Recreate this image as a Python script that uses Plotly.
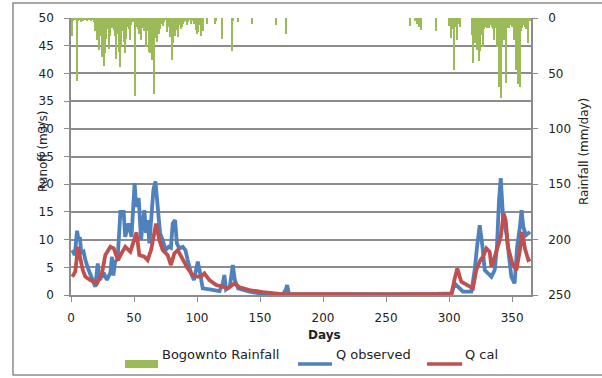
import plotly.graph_objects as go

# ---------------- data ----------------
rain_days = [1, 2, 3, 5, 6, 7, 8, 9, 10, 11, 12, 13, 14, 15, 16, 17, 18, 19, 20,
             21, 22, 23, 24, 25, 26, 27, 28, 29, 30, 31, 32, 33, 34, 35, 36, 37, 38, 39, 40,
             41, 42, 43, 44, 45, 46, 47, 48, 49, 50, 51, 52, 53, 54, 55, 56, 57, 58, 59, 60,
             61, 62, 63, 64, 65, 66, 67, 68, 69, 70, 71, 72, 73, 74, 75, 76, 77, 78, 79, 80,
             81, 82, 83, 84, 85, 86, 87, 88, 89, 90, 91, 92, 93, 94, 95, 96, 97, 98, 99, 100,
             101, 102, 103, 104, 105, 108, 114, 115, 120, 128, 129, 133, 144, 163, 171,
             269, 273, 275, 276, 278, 290, 300, 302, 303, 304, 305, 306, 308, 309,
             318, 319, 320, 321, 322, 323, 324, 325, 326, 327, 328, 329, 330, 331, 332, 333,
             334, 335, 336, 337, 338, 339, 340, 341, 342, 343, 344, 345, 346, 347, 348, 349,
             350, 351, 352, 353, 354, 355, 356, 357, 358, 359, 360, 361, 362, 363, 364]
rain_mm = [16, 3, 2, 57, 3, 2, 4, 2, 3, 2, 1, 3, 2, 1, 3, 2, 4, 12, 8,
           20, 29, 16, 12, 35, 43, 32, 19, 10, 28, 16, 6, 9, 11, 16, 37, 14, 31, 44, 25,
           12, 22, 32, 19, 8, 10, 20, 6, 4, 3, 70, 8, 10, 14, 5, 20, 9, 12, 3, 26,
           12, 31, 32, 38, 26, 69, 18, 22, 10, 14, 10, 5, 7, 4, 2, 13, 8, 6, 17, 38,
           23, 12, 16, 11, 17, 6, 10, 8, 5, 4, 3, 6, 4, 2, 5, 3, 3, 5, 11, 14,
           13, 6, 16, 10, 12, 5, 5, 3, 19, 30, 3, 4, 5, 6, 14,
           7, 3, 5, 8, 11, 12, 7, 18, 10, 47, 8, 20, 5, 8,
           15, 41, 20, 23, 29, 15, 39, 30, 15, 26, 10, 8, 9, 8, 9, 6,
           8, 10, 20, 9, 26, 12, 62, 72, 25, 10, 20, 59, 9, 8, 9, 6,
           8, 8, 20, 47, 10, 60, 62, 12, 9, 6, 8, 10, 8, 23, 3]

qobs_days = [1, 3, 4.8, 6, 7, 8.2, 10, 11.4, 14, 16.7, 19.3, 21.2, 22.7, 25.9, 28.5,
             31.2, 32.5, 33.6, 35, 37, 39.2, 41.8, 43, 45.6, 48, 50.5, 51.6, 53.7,
             55.6, 56.9, 58.2, 59.5, 60.8, 62.2, 63.5, 65.4, 67, 68.8, 70.7, 72.8,
             75, 77.5, 79.3, 80.7, 82.6, 84, 86, 88.7, 90.8, 92.6, 94, 95.3, 97.5,
             99, 100.6, 102, 104.5, 110, 117.8, 120.4, 121.7, 123, 126, 128.4, 130,
             132.6, 141.6, 152, 168, 170.5, 171.5, 173, 200, 250, 290, 302, 304.5,
             307, 311, 317.7, 320.3, 322.2, 324.3, 326.5, 328.3, 330.9, 333.6, 336.2,
             338, 339.6, 341, 342.8, 345.5, 347.6, 349.4, 352, 354, 356.2, 357.5,
             358.9, 361, 364.2]
qobs = [8.1, 7.2, 11.6, 9.9, 10.5, 7.5, 7.8, 6.3, 4.5, 2.7, 1.5, 5.7, 2.7, 4.0, 2.7,
        4.0, 6.9, 3.5, 6.0, 6.5, 15.0, 15.0, 10.5, 12.9, 10.5, 20.2, 15.9, 17.5,
        9.9, 12.9, 15.3, 11.2, 13.5, 9.3, 13.0, 19.0, 20.5, 15.9, 11.1, 9.9,
        8.1, 8.7, 8.5, 12.9, 13.5, 9.3, 8.4, 8.7, 8.1, 6.3, 5.0, 3.9, 2.7,
        4.5, 6.0, 4.5, 1.2, 1.0, 0.7, 2.1, 3.6, 1.0, 1.5, 5.4, 2.7,
        1.2, 0.6, 0.2, 0.1, 1.0, 1.8, 0.1, 0.1, 0.1, 0.2, 0.3, 2.1,
        1.5, 0.6, 0.6, 4.5, 8.7, 12.6, 8.7, 4.5, 3.9, 3.3, 4.5,
        8.7, 17.1, 21.1, 14.1, 11.1, 6.9, 3.3, 2.1, 8.7, 12.3, 15.3,
        12.3, 10.8, 11.4]

qcal_days = [1, 3.4, 5.5, 7.4, 9.3, 11.4, 15.3, 20.6, 24.6, 27.2, 31.2, 33.9, 37.3,
             40, 43.1, 47.1, 52, 54.2, 58.2, 60.8, 63.5, 67.5, 70.1, 72.8, 76.7,
             79.3, 82, 84.7, 88.7, 92.6, 96.6, 99.3, 103.2, 105.9, 109.8, 115.2,
             120.4, 124.4, 129.7, 133.7, 141.6, 152.2, 165.4, 200, 250, 300, 302,
             304.5, 306.5, 309.7, 313.7, 318.9, 321.6, 324.8, 326.9, 329.6, 332.2,
             333.6, 336.2, 338.8, 341, 343.3, 344.9, 346.7, 350.2, 353.4, 356.2,
             357.8, 360.2, 362.9, 364.6]
qcal = [3.3, 4.2, 8.7, 6.9, 4.5, 3.3, 2.7, 2.1, 3.9, 7.2, 8.7, 8.4, 6.3,
        7.5, 8.7, 7.8, 11.3, 7.2, 6.9, 6.3, 8.1, 12.9, 9.9, 8.1, 7.2,
        5.4, 7.5, 8.1, 6.3, 4.8, 3.6, 3.3, 3.3, 3.9, 2.7, 1.8,
        1.5, 1.2, 2.1, 1.4, 0.9, 0.5, 0.2, 0.1, 0.1, 0.2, 0.3,
        3.0, 4.8, 2.4, 1.8, 1.2, 4.5, 6.3, 6.9, 8.4, 7.8,
        5.1, 6.9, 8.7, 10.5, 14.7, 13.5, 8.7, 5.7, 4.5, 8.1,
        11.4, 8.4, 6.3, 6.5]

x_ticks = [0, 50, 100, 150, 200, 250, 300, 350]
y_ticks = [0, 5, 10, 15, 20, 25, 30, 35, 40, 45, 50]
y2_ticks = [0, 50, 100, 150, 200, 250]

series_names = ["Bogownto Rainfall", "Q observed", "Q cal"]

# ---------------- figure ----------------
GREEN = "#9BBB59"
BLUE = "#4F81BD"
RED = "#C0504D"
GRID = "#8C8C8C"
TXT = "#222222"
FONT = "DejaVu Sans, Verdana, sans-serif"
FS = 12

fig = go.Figure()
fig.add_trace(go.Bar(x=rain_days, y=rain_mm, name=series_names[0], yaxis="y2",
                     marker=dict(color=GREEN, line=dict(width=0)), width=1.0))
fig.add_trace(go.Scatter(x=qobs_days, y=qobs, name=series_names[1], mode="lines",
                         line=dict(color=BLUE, width=3.8)))
fig.add_trace(go.Scatter(x=qcal_days, y=qcal, name=series_names[2], mode="lines",
                         line=dict(color=RED, width=3.8)))

L, R, T, B = 71, 71, 18, 83
W, H = 602, 378
pw, ph = W - L - R, H - T - B


def px(x):
    return (x - L) / pw


def py(y):
    return (H - B - y) / ph


legend_y = 364
shapes = [
    dict(type="rect", xref="paper", yref="paper", x0=px(13), x1=px(612),
         y0=py(375), y1=py(3), line=dict(color=GRID, width=1.5), layer="below"),
    # custom legend keys
    dict(type="rect", xref="paper", yref="paper", x0=px(125), x1=px(158),
         y0=py(368), y1=py(360), fillcolor=GREEN, line=dict(width=0)),
    dict(type="line", xref="paper", yref="paper", x0=px(298), x1=px(332),
         y0=py(legend_y), y1=py(legend_y), line=dict(color=BLUE, width=3.5)),
    dict(type="line", xref="paper", yref="paper", x0=px(427), x1=px(462),
         y0=py(legend_y), y1=py(legend_y), line=dict(color=RED, width=3.5)),
]

annotations = [
    dict(text="<b>Days</b>", x=px(324), y=py(344), xref="paper", yref="paper",
         showarrow=False, font=dict(size=FS, color=TXT)),
    dict(text="Runoff (m3/s)", x=px(34), y=py(152), xref="paper", yref="paper",
         showarrow=False, textangle=-90, font=dict(size=FS, color=TXT)),
    dict(text="Rainfall (mm/day)", x=px(593), y=py(152), xref="paper", yref="paper",
         showarrow=False, textangle=-90, font=dict(size=FS, color=TXT)),
    dict(text=series_names[0], x=px(160), y=py(legend_y), xref="paper", yref="paper",
         xanchor="left", showarrow=False, font=dict(size=13, color=TXT)),
    dict(text=series_names[1], x=px(334), y=py(legend_y), xref="paper", yref="paper",
         xanchor="left", showarrow=False, font=dict(size=13, color=TXT)),
    dict(text=series_names[2], x=px(463), y=py(legend_y), xref="paper", yref="paper",
         xanchor="left", showarrow=False, font=dict(size=13, color=TXT)),
]

fig.update_layout(
    width=W, height=H,
    margin=dict(l=L, r=R, t=T, b=B),
    paper_bgcolor="white", plot_bgcolor="white",
    font=dict(family=FONT, size=FS, color=TXT),
    bargap=0,
    showlegend=False,
    xaxis=dict(range=[0, 365], tickvals=x_ticks, ticks="outside", ticklen=5,
               tickcolor=GRID, showline=True, linecolor=GRID, linewidth=1.5,
               showgrid=False, zeroline=False, ticklabelstandoff=6),
    yaxis=dict(range=[0, 50], tickvals=y_ticks, ticks="outside", ticklen=5,
               tickcolor=GRID, showline=True, linecolor=GRID, linewidth=1.5,
               showgrid=True, gridcolor=GRID, gridwidth=1.5, zeroline=False,
               ticklabelstandoff=8),
    yaxis2=dict(range=[250, 0], tickvals=y2_ticks, overlaying="y", side="right",
                ticks="outside", ticklen=5, tickcolor=GRID, showline=True,
                linecolor=GRID, linewidth=1.5, showgrid=False, zeroline=False,
                ticklabelstandoff=8),
    annotations=annotations,
    shapes=shapes,
)

fig.write_html("out.html", config={"displayModeBar": False},
               post_script="document.body.style.margin='0';document.body.style.overflow='hidden';")
